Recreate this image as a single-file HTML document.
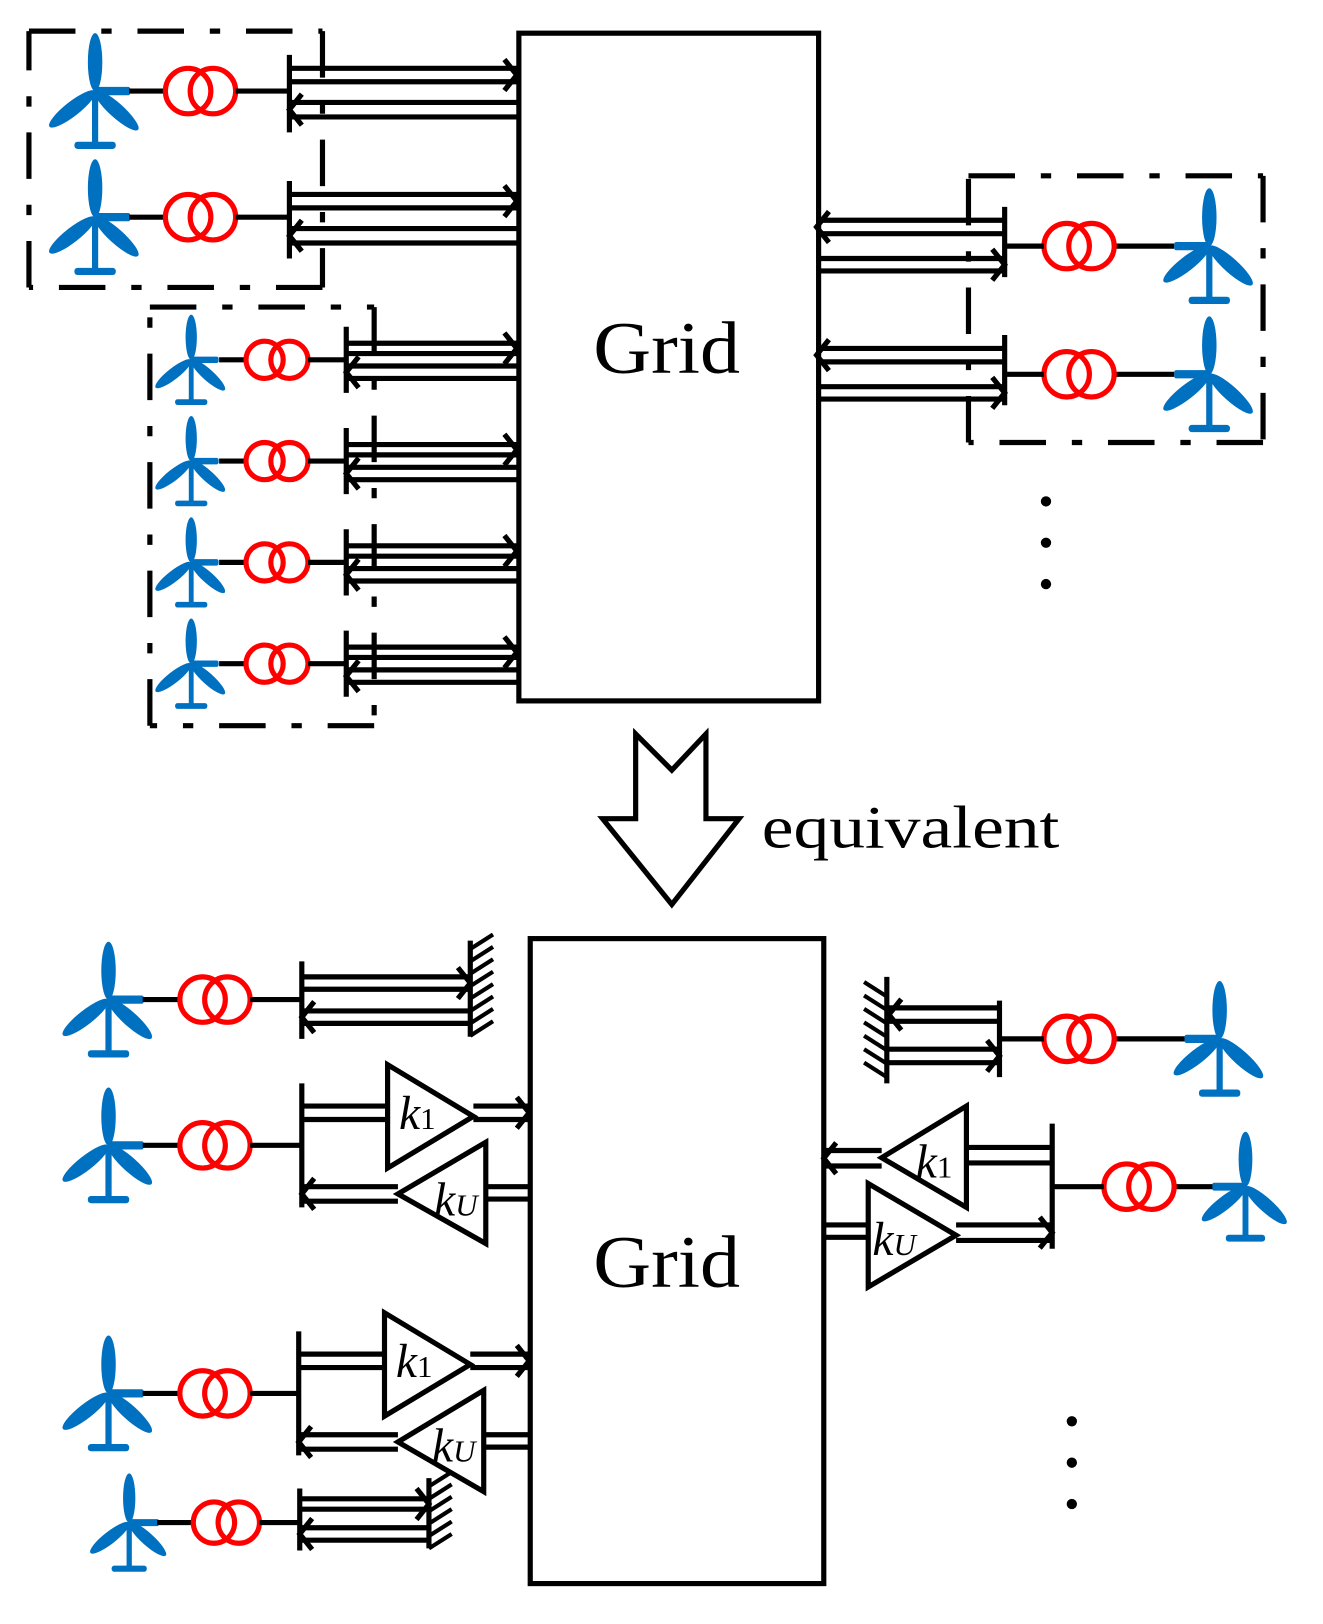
<!DOCTYPE html>
<html><head><meta charset="utf-8"><style>
html,body{margin:0;padding:0;background:#fff;}
svg{display:block;}
</style></head><body>
<svg id="s" xmlns="http://www.w3.org/2000/svg" width="1323" height="1624" viewBox="0 0 1280 1571">
<g id="g" fill="none" stroke="#000" stroke-width="5"></g>
<text x="574" y="361" font-family="Liberation Serif, serif" font-size="72" textLength="142" lengthAdjust="spacingAndGlyphs">Grid</text>
<text x="574" y="1245" font-family="Liberation Serif, serif" font-size="72" textLength="142" lengthAdjust="spacingAndGlyphs">Grid</text>
<text x="737" y="820" font-family="Liberation Serif, serif" font-size="58" textLength="288" lengthAdjust="spacingAndGlyphs">equivalent</text>
<g font-family="Liberation Serif, serif" font-style="italic" font-size="46">
<text x="386" y="1092">k<tspan font-size="30" font-style="normal">1</tspan></text>
<text x="420" y="1176">k<tspan font-size="30">U</tspan></text>
<text x="383" y="1332">k<tspan font-size="30" font-style="normal">1</tspan></text>
<text x="418" y="1414">k<tspan font-size="30">U</tspan></text>
<text x="886" y="1139">k<tspan font-size="30" font-style="normal">1</tspan></text>
<text x="844" y="1214">k<tspan font-size="30">U</tspan></text>
</g>
</svg>
<script>
var g=document.getElementById('g'),h='';
function L(a,b,c,d,w){h+='<line x1="'+a+'" y1="'+b+'" x2="'+c+'" y2="'+d+'"'+(w?' stroke-width="'+w+'"':'')+'/>';}
function R(x,y,w,hh){h+='<rect x="'+x+'" y="'+y+'" width="'+w+'" height="'+hh+'"/>';}
function P(pts){h+='<polygon points="'+pts+'"/>';}
function D(x1,y1,x2,y2){h+='<line x1="'+x1+'" y1="'+y1+'" x2="'+x2+'" y2="'+y2+'" stroke-dasharray="45,25,10,25"/>';}
function box(x1,y1,x2,y2){D(x1,y1,x2,y1);D(x2,y1,x2,y2);D(x2,y2,x1,y2);D(x1,y2,x1,y1);}
function A(xs,xe,ya,yb){L(xs,ya,xe,ya);L(xs,yb,xe,yb);var m=(ya+yb)/2,d=xe>xs?-1:1;
 h+='<polyline points="'+(xe+d*12)+','+(m-15)+' '+xe+','+m+' '+(xe+d*12)+','+(m+15)+'"/>';}
function T(hx,hy,s,mir){var c='#0070C0',o='<g fill="'+c+'" stroke="none">';
 o+='<rect x="'+(hx-3*s)+'" y="'+hy+'" width="'+6*s+'" height="'+52*s+'"/>';
 o+='<rect x="'+(hx-20*s)+'" y="'+(hy+49*s)+'" width="'+40*s+'" height="'+7*s+'" rx="'+3*s+'"/>';
 o+='<rect x="'+(mir?hx-34*s:hx)+'" y="'+(hy-4*s)+'" width="'+34*s+'" height="'+8*s+'" rx="2"/>';
 [0,132,232].forEach(function(a){o+='<ellipse cx="'+hx+'" cy="'+(hy-28*s)+'" rx="'+7*s+'" ry="'+28*s+'" transform="rotate('+a+' '+hx+' '+hy+')"/>';});
 o+='</g>';h+=o;}
function X(x1,x2,y,r){h+='<circle cx="'+x1+'" cy="'+y+'" r="'+r+'" stroke="#f00" stroke-width="5"/><circle cx="'+x2+'" cy="'+y+'" r="'+r+'" stroke="#f00" stroke-width="5"/>';}
function G(x,y1,y2,dir){L(x,y1,x,y2);for(var y=y1+8;y<=y2;y+=12){L(x,y,x+dir*22,y-14,4);}}
R(502,32,290,646);R(513,908,284,624);
P('615,710 650,745 683,710 683,792 715,792 650,875 583,792 615,792');
box(28,30,312,278);
[88,210].forEach(function(y){T(92,y,1,false);L(125,y,160,y);X(182,206,y,22);L(228,y,280,y);L(280,y-35,280,y+40);
 A(280,500,y-22,y-9);A(500,280,y+11,y+25);});
box(145,297,362,702);
[348,446,544,642].forEach(function(y){T(185,y,0.78,false);L(212,y,238,y);X(256,280,y,18);L(298,y,335,y);L(335,y-32,335,y+32);
 A(335,500,y-16,y-6);A(500,335,y+6,y+18);});
box(937,170,1222,428);
[238,362].forEach(function(y){T(1170,y,1,true);L(1078,y,1136,y);X(1032,1056,y,22);L(972,y,1010,y);L(972,y-38,972,y+30);
 A(972,790,y-25,y-12);A(790,972,y+12,y+24);});
[485,525,565].forEach(function(y){h+='<circle cx="1012" cy="'+y+'" r="5" fill="#000" stroke="none"/>';});
[1375,1415,1455].forEach(function(y){h+='<circle cx="1037" cy="'+y+'" r="5" fill="#000" stroke="none"/>';});
T(105,967,1,false);L(138,967,174,967);X(196,220,967,22);L(242,967,292,967);L(292,930,292,1005);
A(292,455,945,957);A(455,292,978,990);G(455,910,1003,1);
[[1108,292,375,458,470,385],[1348,289,372,455,468,385]].forEach(function(r){var y=r[0],b=r[1];
 T(105,y,1,false);L(138,y,174,y);X(196,220,y,22);L(242,y,b,y);L(b,y-60,b,y+60);
 L(b,y-38,r[2],y-38);L(b,y-25,r[2],y-25);P(r[2]+','+(y-78)+' '+r[2]+','+(y+22)+' '+r[3]+','+(y-28));
 A(r[3],512,y-38,y-25);
 L(512,y+40,r[4],y+40);L(512,y+52,r[4],y+52);P(r[4]+','+(y-3)+' '+r[4]+','+(y+95)+' '+r[5]+','+(y+47));
 A(r[5],b,y+40,y+54);});
T(125,1473,0.85,false);L(152,1473,187,1473);X(207,231,1473,20);L(251,1473,290,1473);L(290,1440,290,1500);
A(290,415,1450,1460);A(415,290,1478,1490);G(415,1430,1498,1);
T(1180,1005,1,true);L(1078,1005,1146,1005);X(1032,1056,1005,22);L(967,1005,1010,1005);L(967,968,967,1042);
A(967,860,975,988);A(860,967,1015,1028);
L(858,945,858,1048);for(var y=950;y<=1040;y+=13){L(858,y+14,836,y,4);}
T(1205,1148,0.95,true);L(1136,1148,1173,1148);X(1090,1114,1148,22);L(1018,1148,1068,1148);L(1018,1087,1018,1208);
L(1018,1110,935,1110);L(1018,1125,935,1125);P('935,1070 935,1168 853,1120');A(853,797,1113,1128);
L(797,1185,840,1185);L(797,1197,840,1197);P('840,1145 840,1245 925,1195');A(925,1018,1185,1200);
g.innerHTML=h;
</script>
</body></html>
